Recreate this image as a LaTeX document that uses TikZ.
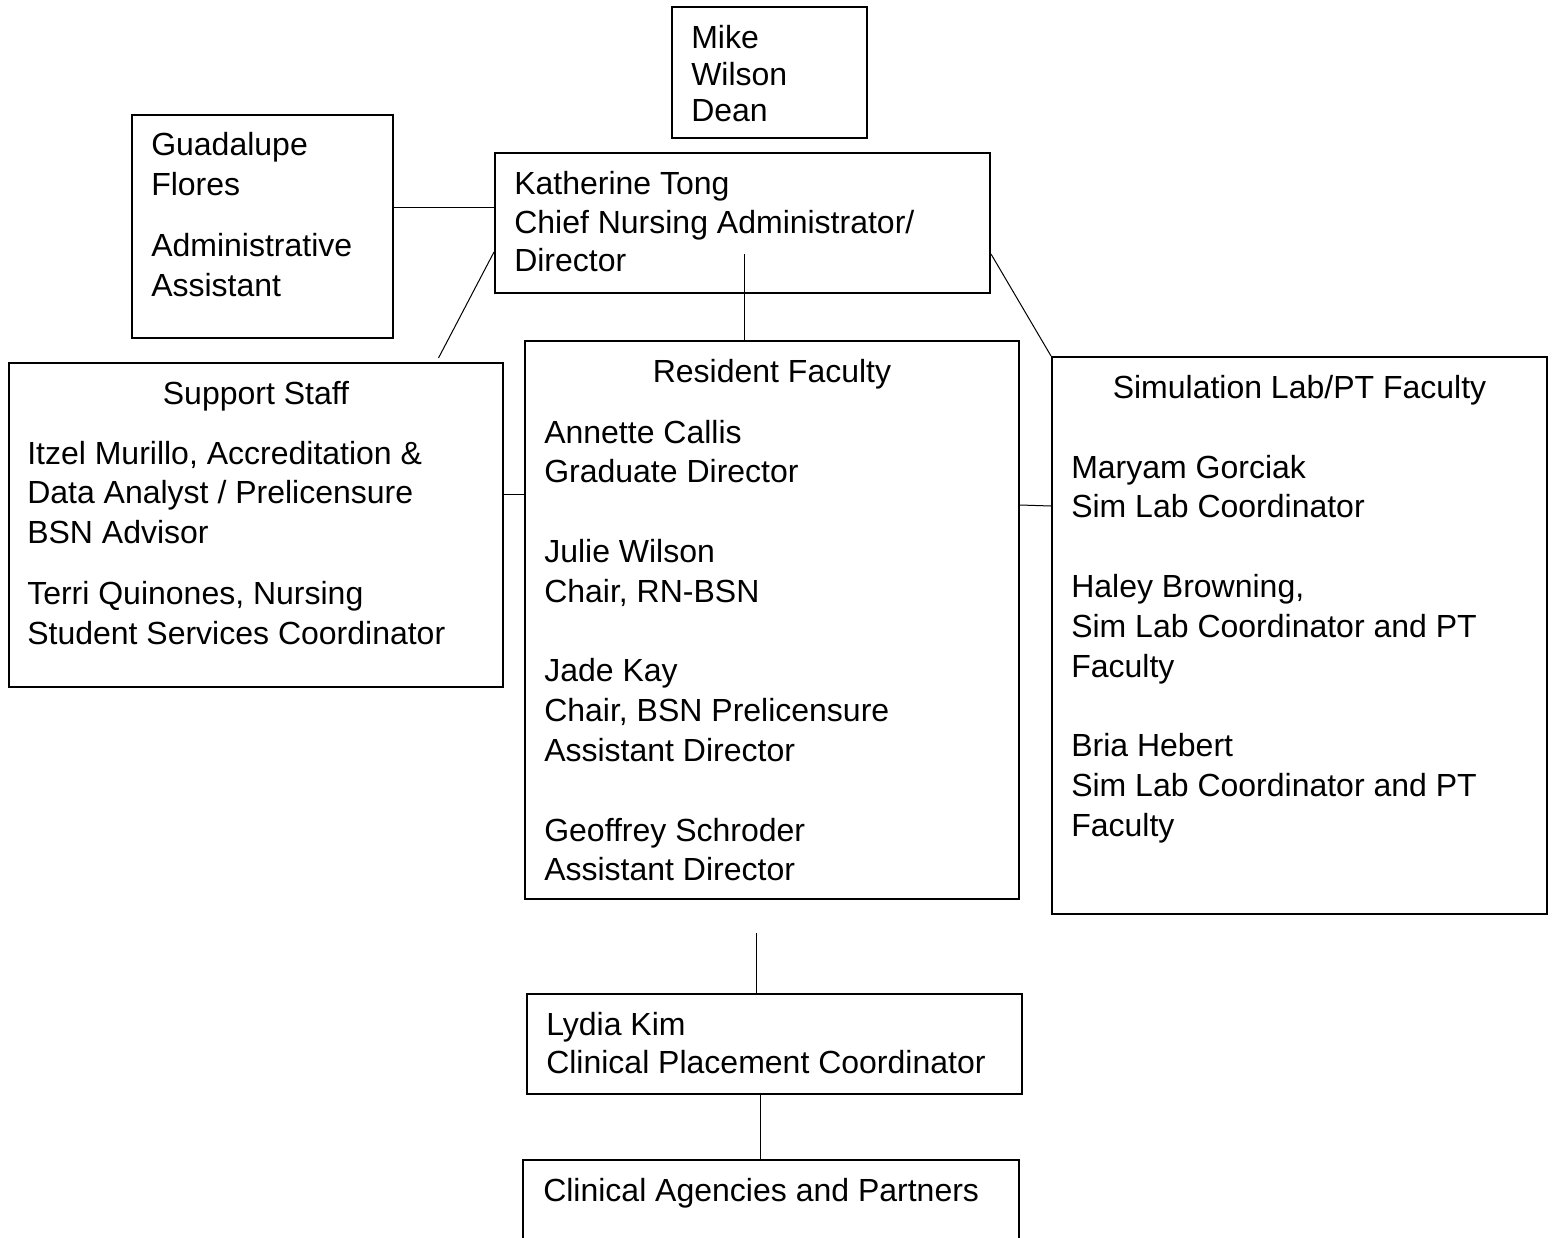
\documentclass[tikz,border=0pt]{standalone}
\usepackage{fontspec}
\setmainfont{Liberation Sans}
\newcommand\stk[1]{\begin{tabular}[t]{@{}l@{}}#1\end{tabular}}
\begin{document}
\begin{tikzpicture}[x=0.75pt,y=-0.75pt,
  box/.style={draw=black,line width=1.5pt,inner sep=0pt,rectangle},
  conn/.style={draw=black,line width=0.75pt},
  txt/.style={inner sep=0pt,anchor=base west,font=\fontsize{24}{29.85}\selectfont},
  ttl/.style={inner sep=0pt,anchor=base,font=\fontsize{24}{29.85}\selectfont}]
\useasboundingbox (0,0) rectangle (1554,1238);
\fill[white] (0,0) rectangle (1554,1238);
\clip (0,0) rectangle (1554,1238);
% boxes
\node[box,minimum width=146.7pt,minimum height=98.25pt] (dean) at (769.5,72.4) {};
\node[box,minimum width=196.1pt,minimum height=167.25pt] (guad) at (262.75,226.5) {};
\node[box,minimum width=371.25pt,minimum height=105pt] (kath) at (742.5,222.7) {};
\node[box,minimum width=370.5pt,minimum height=243pt] (sup) at (256,525) {};
\node[box,minimum width=370.5pt,minimum height=418.5pt] (res) at (772,620) {};
\node[box,minimum width=371.25pt,minimum height=417.75pt] (sim) at (1299.5,635.5) {};
\node[box,minimum width=371.25pt,minimum height=75pt] (lyd) at (774.5,1044) {};
\node[box,minimum width=372pt,minimum height=90pt] (cap) at (771,1220) {};
% texts
\node[txt] (tdean) at (691,48.5) {\fontsize{24}{27.4}\selectfont\stk{Mike\\Wilson\\Dean}};
\node[txt] (tkath) at (514,194) {\fontsize{24}{29.25}\selectfont\stk{Katherine Tong\\Chief Nursing Administrator/\\Director}};
\node[txt] (tguad) at (151,156) {\stk{Guadalupe\\Flores\\[16pt]Administrative\\Assistant}};
\node[ttl] (tsup) at (256,404) {Support Staff};
\node[txt] (tsupi) at (27,464) {\stk{Itzel Murillo, Accreditation \&\\Data Analyst / Prelicensure\\BSN Advisor\\[16pt]Terri Quinones, Nursing\\Student Services Coordinator}};
\node[ttl] (tres) at (772,382) {Resident Faculty};
\node[txt] (tresi) at (544,443) {\stk{Annette Callis\\Graduate Director\\[29.85pt]Julie Wilson\\Chair, RN-BSN\\[29.85pt]Jade Kay\\Chair, BSN Prelicensure\\Assistant Director\\[29.85pt]Geoffrey Schroder\\Assistant Director}};
\node[ttl] (tsim) at (1299.5,398) {Simulation Lab/PT Faculty};
\node[txt] (tsimi) at (1071,478) {\stk{Maryam Gorciak\\Sim Lab Coordinator\\[29.85pt]Haley Browning,\\Sim Lab Coordinator and PT\\Faculty\\[29.85pt]Bria Hebert\\Sim Lab Coordinator and PT\\Faculty}};
\node[txt] (tlyd) at (546,1035.5) {\fontsize{24}{28.6}\selectfont\stk{Lydia Kim\\Clinical Placement Coordinator}};
\node[txt] (tcap) at (543,1201.5) {Clinical Agencies and Partners};
% connectors
\coordinate (ssend) at (438.5,358);
\coordinate (kin) at (744,254);
\coordinate (lfree) at (756,933);
\draw[conn] (guad.east |- 0,207) -- (kath.west |- 0,207);
\draw[conn] (kath.west |- 0,252) -- (ssend);
\draw[conn] (kin) -- (kin |- res.north);
\draw[conn] (kath.east |- 0,254) -- (sim.north west);
\draw[conn] (sup.east |- 0,494) -- (res.west |- 0,494);
\draw[conn] (res.east |- 0,505) -- (sim.west |- 0,506);
\draw[conn] (lfree) -- (lfree |- lyd.north);
\draw[conn] (lyd.south -| 760,0) -- (cap.north -| 760,0);
\end{tikzpicture}
\end{document}
